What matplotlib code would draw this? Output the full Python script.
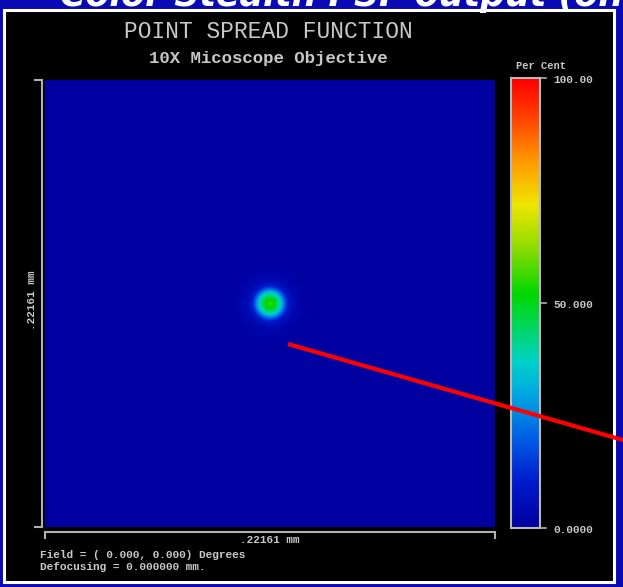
import numpy as np
import matplotlib.pyplot as plt
import matplotlib.patches as patches
from matplotlib.colors import LinearSegmentedColormap

W, H = 623, 587

# PSF data: scan width and radial profile of the spot (percent)
field_width_mm = 0.22161
radius_mm = [0.0, 0.002, 0.004, 0.006, 0.0075, 0.009, 0.012, 0.018, 0.12]
psf_percent = [56, 52, 44, 31, 19, 9, 3.5, 0.8, 0]

cbar_ticks = [0, 50, 100]
cbar_labels = ["0.0000", "50.000", "100.00"]

# false colour scale (position, rgb)
cmap_pos = [0.0, 0.10, 0.20, 0.30, 0.37, 0.45, 0.52, 0.62, 0.72, 0.82, 0.92, 1.0]
cmap_rgb = [(0, 0, 160), (0, 25, 205), (0, 95, 230), (0, 170, 225), (0, 210, 200),
            (0, 215, 90), (0, 215, 0), (140, 220, 0), (240, 230, 0), (255, 150, 0),
            (255, 60, 0), (255, 0, 0)]
psf_cmap = LinearSegmentedColormap.from_list(
    "psf", [(p, tuple(c / 255 for c in rgb)) for p, rgb in zip(cmap_pos, cmap_rgb)])

TXT = "#c8c8c8"
LINE = "#b0b0b0"
MONO = "Liberation Mono"


def px_axes(x0, y0, x1, y1, z):
    return fig.add_axes([x0 / W, 1 - y1 / H, (x1 - x0) / W, (y1 - y0) / H], zorder=z)


fig = plt.figure(figsize=(W / 100, H / 100), dpi=100)
fig.patch.set_facecolor("#0a0ab4")

# background: slide title band, white frame, black panel
bg = px_axes(0, 0, W, H, 0)
bg.set_xlim(0, W)
bg.set_ylim(H, 0)
bg.axis("off")
bg.text(60, 6, "Color Stealth PSF output (on", color="white", fontsize=25,
        fontweight="bold", fontstyle="italic", va="baseline", ha="left")
bg.add_patch(patches.Rectangle((4, 10), 610, 572, facecolor="black",
                               edgecolor="white", linewidth=2.2))

bg.text(268, 32, "POINT SPREAD FUNCTION", family=MONO, fontsize=16.5,
        color=TXT, ha="center", va="center")
bg.text(268, 58, "10X Micoscope Objective", family=MONO, fontsize=12.5,
        fontweight="bold", color=TXT, ha="center", va="center")

# axes frame lines around the image
bg.plot([42, 42], [80, 527], color=LINE, lw=1.5)
bg.plot([35, 42], [80, 80], color=LINE, lw=1.5)
bg.plot([35, 42], [527, 527], color=LINE, lw=1.5)
bg.plot([45, 495], [532, 532], color=LINE, lw=1.5)
bg.plot([45, 45], [532, 538], color=LINE, lw=1.5)
bg.plot([495, 495], [532, 538], color=LINE, lw=1.5)
scale_label = f"{field_width_mm:.5f}".lstrip("0") + " mm"
bg.text(270, 540, scale_label, family=MONO, fontsize=8, fontweight="bold",
        color=TXT, ha="center", va="center")
bg.text(32, 300, scale_label, family=MONO, fontsize=8, fontweight="bold",
        color=TXT, ha="center", va="center", rotation=90)
bg.text(40, 555, "Field = ( 0.000, 0.000) Degrees", family=MONO, fontsize=8,
        fontweight="bold", color=TXT, ha="left", va="center")
bg.text(40, 567, "Defocusing = 0.000000 mm.", family=MONO, fontsize=8,
        fontweight="bold", color=TXT, ha="left", va="center")

# colour bar labels
bg.text(541, 66, "Per Cent", family=MONO, fontsize=7.5, fontweight="bold",
        color=TXT, ha="center", va="center")
cb_top, cb_bot = 78, 528
for t, lab in zip(cbar_ticks, cbar_labels):
    y = cb_bot - (cb_bot - cb_top) * t / 100
    bg.plot([540, 546], [y, y], color=LINE, lw=1.2)
    bg.text(573, y + 2, lab, family=MONO, fontsize=8, fontweight="bold",
            color=TXT, ha="center", va="center")

# PSF image
half = field_width_mm / 2
g = np.linspace(-half, half, 400)
X, Y = np.meshgrid(g, g)
Z = np.interp(np.hypot(X, Y), radius_mm, psf_percent)
ax = px_axes(45, 80, 495, 527, 2)
ax.imshow(Z, cmap=psf_cmap, vmin=0, vmax=100, extent=(-half, half, -half, half),
          interpolation="bilinear", aspect="auto")
ax.axis("off")

# colour bar
cax = px_axes(511, cb_top, 540, cb_bot, 2)
grad = np.linspace(100, 0, 256)[:, None]
cax.imshow(grad, cmap=psf_cmap, vmin=0, vmax=100, aspect="auto",
           extent=(0, 1, 0, 100))
cax.set_xticks([])
cax.set_yticks([])
for s in cax.spines.values():
    s.set_color("#b8b8b8")
    s.set_linewidth(1.5)

# red pointer on top of everything
fg = px_axes(0, 0, W, H, 10)
fg.set_xlim(0, W)
fg.set_ylim(H, 0)
fg.axis("off")
fg.patch.set_alpha(0)
fg.plot([288, 630], [344, 442], color="#ff0000", lw=3, solid_capstyle="butt")

fig.savefig("out.png", dpi=100, facecolor=fig.get_facecolor())
